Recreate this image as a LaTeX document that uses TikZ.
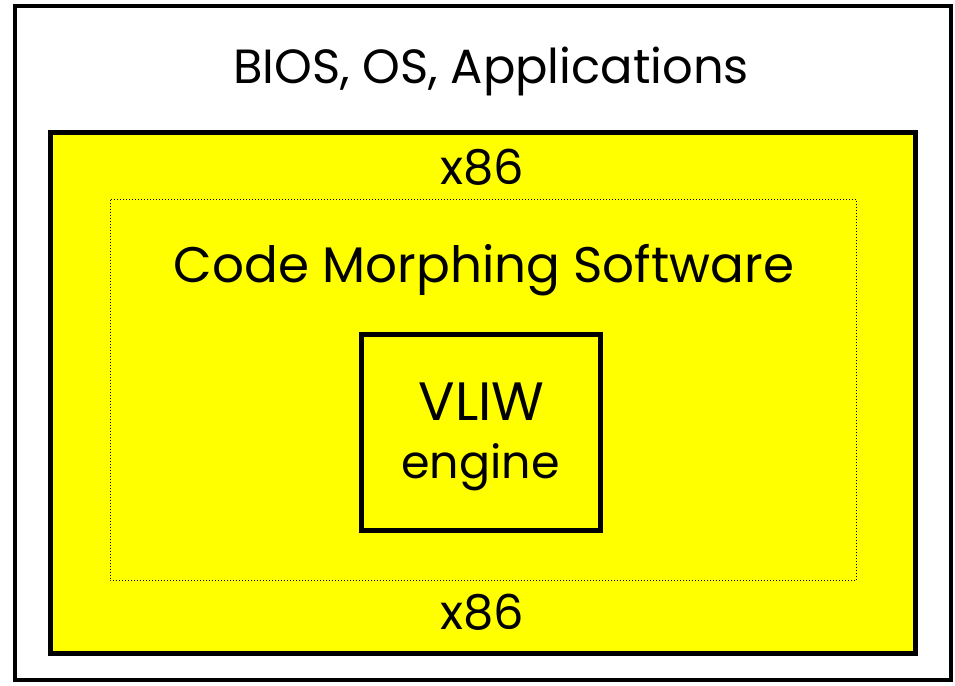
\documentclass[tikz,border=0pt]{standalone}
\usepackage{fontspec}
\setmainfont{Poppins}
\definecolor{layeryellow}{RGB}{255,255,0}
\tikzset{
    layertext/.style={anchor=base,inner sep=0pt,font=\fontsize{48}{58}\selectfont},
    coretext/.style={anchor=base,inner sep=0pt,font=\fontsize{50}{60}\selectfont}
}
\begin{document}
\begin{tikzpicture}[x=1pt,y=-1pt]
        \useasboundingbox(0,0)rectangle(955,685);
        % outer layer
        \draw[line width=4.5pt,fill=white](15,6)rectangle(951,680);
        \node[layertext](apps)at(491,83){BIOS, OS, Applications};
        % x86 layer
        \draw[line width=5pt,fill=layeryellow](50,132.5)rectangle(915.5,653);
        \node[layertext](xtop)at(482.5,184){x86};
        \node[layertext](xbot)at(482.5,629){x86};
        % code morphing software
        \draw[line width=1pt,dotted](110,199.5)rectangle(856.5,580.5);
        \node[coretext](cms)at(484,282){Code Morphing Software};
        % VLIW engine
        \draw[line width=5pt](361,334)rectangle(600.5,530.5);
        \node[coretext,font=\fontsize{54}{60}\selectfont](vliw)at(481.5,420){VLIW};
        \node[coretext,font=\fontsize{46}{60}\selectfont](engine)at(480.5,478){engine};
\end{tikzpicture}
\end{document}
